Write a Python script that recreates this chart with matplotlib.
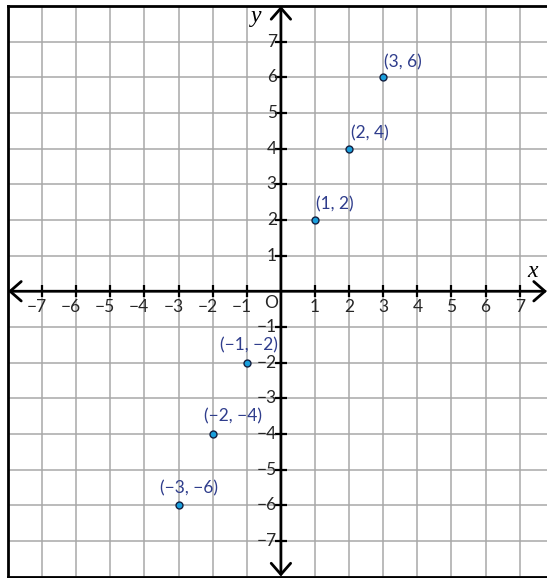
import matplotlib
matplotlib.use('Agg')
import matplotlib.pyplot as plt

# points on the line y = 2x
xs = [1, 2, 3, -1, -2, -3]
ys = [2, 4, 6, -2, -4, -6]
point_labels = ['(1, 2)', '(2, 4)', '(3, 6)', '(\u22121, \u22122)', '(\u22122, \u22124)', '(\u22123, \u22126)']
label_offsets = [(1, 7), (2, 7), (1, 7), (-27, 9), (-9, 9), (-19, 9)]  # pixels

x_ticks = [-7, -6, -5, -4, -3, -2, -1, 1, 2, 3, 4, 5, 6, 7]
y_ticks = [-7, -6, -5, -4, -3, -2, -1, 1, 2, 3, 4, 5, 6, 7]

plt.rcParams['font.family'] = ['Lato', 'DejaVu Sans']
fs = 12.5
label_col = '#2f3d8c'
tick_col = '#262626'

fig = plt.figure(figsize=(5.47, 5.78), dpi=100)
ax = fig.add_axes([8 / 547, 1.5 / 578, 539 / 547, 570.5 / 578])
ax.set_xlim(-8, 7.8)
ax.set_ylim(-8, 8)

# square grid
ax.set_xticks(range(-8, 8))
ax.set_yticks(range(-8, 9))
ax.grid(True, color='#a8a8a8', lw=1.1)
ax.tick_params(length=0, labelbottom=False, labelleft=False)
ax.set_axisbelow(True)
for side in ['left', 'top', 'bottom']:
    ax.spines[side].set_linewidth(2)
    ax.spines[side].set_color('black')
ax.spines['right'].set_visible(False)

# axes with arrows at both ends
arrow = dict(arrowstyle='<->,head_length=0.8,head_width=0.7', lw=2, color='black',
             shrinkA=0, shrinkB=0, mutation_scale=10)
ax.annotate('', xy=(7.8, 0), xytext=(-8, 0), arrowprops=arrow, annotation_clip=False)
ax.annotate('', xy=(0, 8), xytext=(0, -8), arrowprops=arrow, annotation_clip=False)

# tick crosses
ax.plot(x_ticks, [0] * len(x_ticks), ls='none', marker='|', ms=8, mew=1.6, color='black')
ax.plot([0] * len(y_ticks), y_ticks, ls='none', marker='_', ms=8, mew=1.6, color='black')

for t in x_ticks:
    s = str(t).replace('-', '\u2212')
    if t < 0:
        ax.annotate(s, xy=(t, 0), xytext=(5, -8), textcoords='offset pixels',
                    ha='right', va='top', fontsize=fs, color=tick_col)
    else:
        ax.annotate(s, xy=(t, 0), xytext=(0, -8), textcoords='offset pixels',
                    ha='center', va='top', fontsize=fs, color=tick_col)
for t in y_ticks:
    s = str(t).replace('-', '\u2212')
    ax.annotate(s, xy=(0, t), xytext=(-4, 0), textcoords='offset pixels',
                ha='right', va='center', fontsize=fs, color=tick_col)
ax.annotate('O', xy=(0, 0), xytext=(-10, -12), textcoords='offset pixels',
            ha='center', va='center', fontsize=fs, color=tick_col)

# axis names
ax.text(7.39, 0.55, 'x', fontsize=17, family='Liberation Serif', style='italic',
        ha='center', va='center')
ax.text(-0.72, 7.7, 'y', fontsize=17, family='Liberation Serif', style='italic',
        ha='center', va='center')

# plotted points and their labels
ax.plot(xs, ys, ls='none', marker='o', ms=5, mfc='#1a9fdc', mec='#142040', mew=1, zorder=5)
for x, y, s, off in zip(xs, ys, point_labels, label_offsets):
    ax.annotate(s, xy=(x, y), xytext=off, textcoords='offset pixels',
                ha='left', va='bottom', fontsize=fs, color=label_col)

fig.savefig('out.png', dpi=100)
